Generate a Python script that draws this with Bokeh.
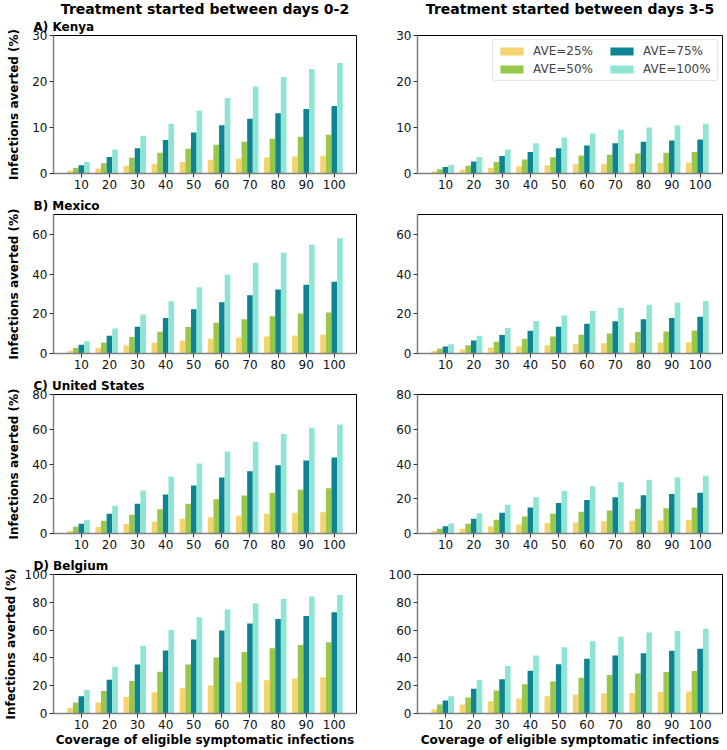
from bokeh.plotting import figure
from bokeh.layouts import gridplot
from bokeh.models import Range1d, FixedTicker, Title, Legend, LegendItem, ColumnDataSource
from bokeh.transform import dodge
from bokeh.embed import file_html
from bokeh.resources import INLINE

# ---------------- data ----------------
coverage = [10, 20, 30, 40, 50, 60, 70, 80, 90, 100]
series_labels = ["AVE=25%", "AVE=50%", "AVE=75%", "AVE=100%"]
colors = ["#F5D36F", "#97C84B", "#0E8391", "#8EE5D3"]
panel_titles = ["A) Kenya", "B) Mexico", "C) United States", "D) Belgium"]
col_titles = ["Treatment started between days 0-2", "Treatment started between days 3-5"]
y_max = [30, 70, 80, 100]
y_ticks = [[0, 10, 20, 30], [0, 20, 40, 60], [0, 20, 40, 60, 80], [0, 20, 40, 60, 80, 100]]
x_label = "Coverage of eligible symptomatic infections"
y_label = "Infections averted (%)"

# Kenya, days 0-2
kenya_early_25 = [0.6, 1.1, 1.7, 2.1, 2.5, 3.0, 3.2, 3.5, 3.7, 3.85]
kenya_early_50 = [1.2, 2.25, 3.4, 4.5, 5.4, 6.25, 6.9, 7.55, 8.0, 8.4]
kenya_early_75 = [1.8, 3.6, 5.5, 7.3, 8.9, 10.5, 11.9, 13.1, 14.0, 14.7]
kenya_early_100 = [2.5, 5.2, 8.1, 10.8, 13.65, 16.4, 18.9, 21.0, 22.7, 24.0]
# Kenya, days 3-5
kenya_late_25 = [0.5, 0.8, 1.2, 1.6, 1.8, 2.0, 2.1, 2.25, 2.3, 2.35]
kenya_late_50 = [0.9, 1.7, 2.5, 3.05, 3.55, 3.9, 4.1, 4.35, 4.5, 4.65]
kenya_late_75 = [1.4, 2.6, 3.8, 4.65, 5.5, 6.1, 6.6, 6.9, 7.2, 7.4]
kenya_late_100 = [1.9, 3.6, 5.2, 6.6, 7.8, 8.7, 9.5, 10.0, 10.5, 10.8]
# Mexico, days 0-2
mexico_early_25 = [1.35, 2.7, 4.0, 5.4, 6.4, 7.4, 8.1, 8.6, 9.1, 9.4]
mexico_early_50 = [2.9, 5.6, 8.3, 11.0, 13.3, 15.5, 17.2, 18.7, 20.1, 20.7]
mexico_early_75 = [4.4, 8.9, 13.5, 17.9, 22.3, 25.8, 29.3, 32.2, 34.6, 36.1]
mexico_early_100 = [6.2, 12.6, 19.6, 26.3, 33.4, 39.8, 45.7, 50.8, 54.8, 58.0]
# Mexico, days 3-5
mexico_late_25 = [1.2, 2.2, 3.0, 3.7, 4.2, 4.7, 5.1, 5.4, 5.6, 5.7]
mexico_late_50 = [2.4, 4.2, 5.9, 7.4, 8.6, 9.4, 10.1, 10.8, 11.1, 11.6]
mexico_late_75 = [3.5, 6.6, 9.3, 11.5, 13.5, 15.0, 16.2, 17.2, 17.9, 18.5]
mexico_late_100 = [4.6, 8.9, 12.8, 16.4, 19.1, 21.4, 23.1, 24.6, 25.6, 26.5]
# United States, days 0-2
us_early_25 = [1.5, 3.85, 5.4, 6.7, 8.5, 9.4, 10.2, 11.4, 11.9, 12.3]
us_early_50 = [3.85, 7.3, 10.8, 13.9, 17.1, 19.7, 21.8, 23.5, 25.2, 26.0]
us_early_75 = [5.6, 11.4, 17.1, 22.5, 27.6, 32.2, 35.8, 39.3, 42.0, 43.7]
us_early_100 = [7.7, 16.0, 24.7, 32.8, 40.3, 47.2, 52.6, 57.2, 60.7, 62.8]
# United States, days 3-5
us_late_25 = [1.5, 2.7, 4.2, 5.2, 6.0, 6.4, 7.1, 7.3, 7.5, 7.7]
us_late_50 = [2.7, 5.6, 7.9, 9.8, 11.4, 12.5, 13.3, 14.1, 14.6, 15.0]
us_late_75 = [4.2, 8.5, 11.9, 15.0, 17.5, 19.3, 20.8, 22.0, 22.7, 23.5]
us_late_100 = [5.8, 11.6, 16.6, 20.8, 24.5, 27.2, 29.5, 31.0, 32.4, 33.3]
# Belgium, days 0-2
belgium_early_25 = [4.1, 8.0, 11.8, 15.2, 18.1, 20.2, 22.4, 23.9, 25.1, 26.0]
belgium_early_50 = [8.0, 16.1, 23.4, 30.1, 35.2, 40.2, 44.3, 47.0, 49.2, 51.3]
belgium_early_75 = [12.5, 24.3, 35.2, 45.3, 53.3, 59.8, 64.8, 68.0, 70.1, 72.8]
belgium_early_100 = [16.9, 33.7, 48.7, 60.0, 69.2, 74.9, 79.3, 82.4, 84.1, 85.3]
# Belgium, days 3-5
belgium_late_25 = [3.1, 6.3, 8.9, 10.8, 12.5, 13.5, 14.5, 14.7, 15.4, 15.9]
belgium_late_50 = [6.5, 11.6, 16.6, 21.0, 23.1, 25.8, 27.7, 28.7, 29.9, 30.6]
belgium_late_75 = [9.4, 17.8, 24.6, 30.8, 35.4, 39.3, 41.7, 43.4, 45.1, 46.5]
belgium_late_100 = [12.5, 24.1, 34.2, 41.7, 47.7, 52.0, 55.2, 58.3, 59.3, 61.0]

panels = [
    [[kenya_early_25, kenya_early_50, kenya_early_75, kenya_early_100],
     [kenya_late_25, kenya_late_50, kenya_late_75, kenya_late_100]],
    [[mexico_early_25, mexico_early_50, mexico_early_75, mexico_early_100],
     [mexico_late_25, mexico_late_50, mexico_late_75, mexico_late_100]],
    [[us_early_25, us_early_50, us_early_75, us_early_100],
     [us_late_25, us_late_50, us_late_75, us_late_100]],
    [[belgium_early_25, belgium_early_50, belgium_early_75, belgium_early_100],
     [belgium_late_25, belgium_late_50, belgium_late_75, belgium_late_100]],
]

FONT = "DejaVu Sans"
bar_offsets = [-4, -2, 0, 2]
bar_width = 2

# vertical layout per row: (top border, frame height, bottom border)
ROW_LAYOUT = [(35, 138, 21), (20, 139, 21), (20, 139, 21), (20, 139, 36)]


def make_title(text, size, align, offset=0, standoff=0, valign="bottom"):
    return Title(text=text, text_font=FONT, text_font_size=size,
                 text_font_style="bold", text_color="black", align=align,
                 offset=offset, standoff=standoff, vertical_align=valign)


def make_panel(row, col, series):
    top, fh, bottom = ROW_LAYOUT[row]
    if col == 0:
        w, bl, br = 385, 48, 29
    else:
        w, bl, br = 341, 32, 4
    h = top + fh + bottom
    p = figure(width=w, height=h, x_range=Range1d(0.1, 107.9),
               y_range=Range1d(0, y_max[row]), output_backend="svg",
               toolbar_location=None, title=None,
               min_border_left=bl, min_border_right=br,
               min_border_top=top, min_border_bottom=bottom)
    p.background_fill_color = "white"
    p.border_fill_color = "white"
    p.outline_line_color = "black"
    p.outline_line_width = 1
    p.xgrid.visible = False
    p.ygrid.visible = False

    data = dict(coverage=coverage)
    for k in range(4):
        data[f"s{k}"] = series[k]
    src = ColumnDataSource(data)
    rs = []
    for k in range(4):
        r = p.vbar(x=dodge("coverage", bar_offsets[k]), top=f"s{k}", bottom=0,
                   width=bar_width, source=src, fill_color=colors[k],
                   line_color=None)
        rs.append(r)

    p.xaxis.ticker = FixedTicker(ticks=coverage)
    p.yaxis.ticker = FixedTicker(ticks=y_ticks[row])
    for ax in (p.xaxis, p.yaxis):
        ax.axis_line_color = "#808080"
        ax.axis_line_width = 1.5
        ax.major_tick_line_color = "#333333"
        ax.major_tick_in = 0
        ax.major_tick_out = 4
        ax.minor_tick_line_color = None
        ax.major_label_text_font = FONT
        ax.major_label_text_font_size = "12px"
        ax.major_label_text_color = "#111111"
        ax.major_label_standoff = 2
        ax.axis_label_text_font = FONT
        ax.axis_label_text_font_size = "12px"
        ax.axis_label_text_font_style = "bold"
        ax.axis_label_text_color = "black"

    if col == 0:
        p.yaxis.axis_label = y_label
        p.yaxis.axis_label_standoff = (4 if row == 3 else 8)
    if row == 3:
        p.xaxis.axis_label = x_label
        p.xaxis.axis_label_standoff = 1

    # titles above the frame (first added = nearest to the frame)
    if col == 0:
        p.add_layout(make_title(panel_titles[row], "12px", "left", offset=-20, standoff=3), "above")
    elif row == 0:
        p.add_layout(make_title(" ", "12px", "left", standoff=3), "above")
    if row == 0:
        p.add_layout(make_title(col_titles[col], "14px", "center", standoff=-4, valign="top"), "above")

    if row == 0 and col == 1:
        items = [LegendItem(label=series_labels[k], renderers=[rs[k]]) for k in range(4)]
        leg = Legend(items=items, location="top_right", ncols=2)
        leg.label_text_font = FONT
        leg.label_text_font_size = "12px"
        leg.glyph_width = 29
        leg.glyph_height = 10
        leg.label_standoff = 7
        leg.label_height = 14
        leg.label_width = 70
        leg.spacing = 4
        leg.padding = 4
        leg.margin = 4
        leg.border_line_color = "#cccccc"
        leg.border_line_width = 1
        leg.background_fill_alpha = 0.8
        if "border_radius" in leg.properties():
            leg.border_radius = 3
        p.add_layout(leg)
    return p


rows = []
for row in range(4):
    rows.append([make_panel(row, col, panels[row][col]) for col in range(2)])

grid = gridplot(rows, toolbar_location=None)

open("out.html", "w").write(file_html(grid, INLINE))
